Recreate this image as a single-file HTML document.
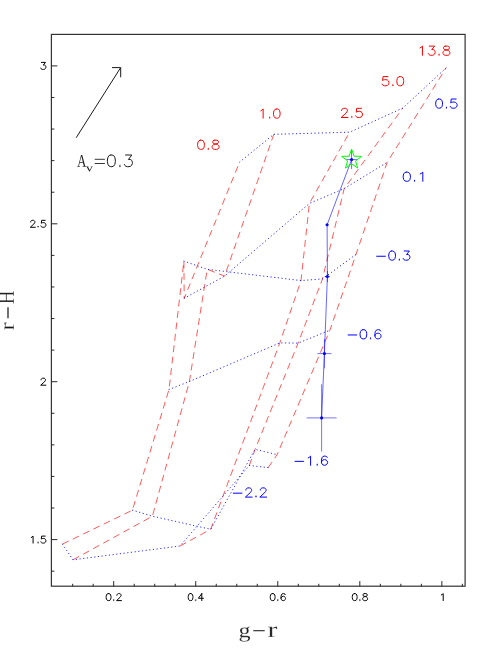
<!DOCTYPE html>
<html><head><meta charset="utf-8"><title>plot</title>
<style>html,body{margin:0;padding:0;background:#fff;}body{width:491px;height:653px;position:relative;overflow:hidden;font-family:"Liberation Sans",sans-serif;}</style>
</head><body>
<svg width="491" height="653" viewBox="0 0 491 653" style="position:absolute;left:0;top:0">
<rect x="0" y="0" width="491" height="653" fill="#fff"/>
<rect x="51.4" y="34.4" width="413.70000000000005" height="551.8000000000001" fill="none" stroke="#333" stroke-width="1.2"/>
<path d="M72.68 586.2v-2.4 M93.19 586.2v-2.4 M113.70 586.2v-5.1 M134.21 586.2v-2.4 M154.72 586.2v-2.4 M175.23 586.2v-2.4 M195.74 586.2v-5.1 M216.25 586.2v-2.4 M236.76 586.2v-2.4 M257.27 586.2v-2.4 M277.78 586.2v-5.1 M298.29 586.2v-2.4 M318.80 586.2v-2.4 M339.31 586.2v-2.4 M359.82 586.2v-5.1 M380.33 586.2v-2.4 M400.84 586.2v-2.4 M421.35 586.2v-2.4 M441.86 586.2v-5.1 M462.37 586.2v-2.4 M51.4 571.18h3.0 M51.4 539.60h6.0 M51.4 508.02h3.0 M51.4 476.44h3.0 M51.4 444.86h3.0 M51.4 413.28h3.0 M51.4 381.70h6.0 M51.4 350.12h3.0 M51.4 318.54h3.0 M51.4 286.96h3.0 M51.4 255.38h3.0 M51.4 223.80h6.0 M51.4 192.22h3.0 M51.4 160.64h3.0 M51.4 129.06h3.0 M51.4 97.48h3.0 M51.4 65.90h6.0" stroke="#111" stroke-width="0.9" fill="none"/>
<path d="M108.24 593.60L107.19 593.93L106.50 594.93L106.15 596.60L106.15 597.60L106.50 599.27L107.19 600.27L108.24 600.60L108.93 600.60L109.97 600.27L110.67 599.27L111.02 597.60L111.02 596.60L110.67 594.93L109.97 593.93L108.93 593.60L108.24 593.60M113.80 599.93L113.45 600.27L113.80 600.60L114.15 600.27L113.80 599.93M116.93 595.27L116.93 594.93L117.28 594.27L117.62 593.93L118.32 593.60L119.71 593.60L120.41 593.93L120.75 594.27L121.10 594.93L121.10 595.60L120.75 596.27L120.06 597.27L116.58 600.60L121.45 600.60" fill="none" stroke="#000" stroke-width="1.0" stroke-linecap="round" stroke-linejoin="round"/>
<path d="M190.23 593.60L189.21 593.93L188.53 594.93L188.19 596.60L188.19 597.60L188.53 599.27L189.21 600.27L190.23 600.60L190.91 600.60L191.93 600.27L192.61 599.27L192.95 597.60L192.95 596.60L192.61 594.93L191.93 593.93L190.91 593.60L190.23 593.60M195.67 599.93L195.33 600.27L195.67 600.60L196.01 600.27L195.67 599.93M201.79 593.60L198.39 598.27L203.49 598.27M201.79 593.60L201.79 600.60" fill="none" stroke="#000" stroke-width="1.0" stroke-linecap="round" stroke-linejoin="round"/>
<path d="M272.32 593.60L271.27 593.93L270.58 594.93L270.23 596.60L270.23 597.60L270.58 599.27L271.27 600.27L272.32 600.60L273.01 600.60L274.06 600.27L274.75 599.27L275.10 597.60L275.10 596.60L274.75 594.93L274.06 593.93L273.01 593.60L272.32 593.60M277.88 599.93L277.53 600.27L277.88 600.60L278.23 600.27L277.88 599.93M285.18 594.60L284.83 593.93L283.79 593.60L283.10 593.60L282.05 593.93L281.36 594.93L281.01 596.60L281.01 598.27L281.36 599.60L282.05 600.27L283.10 600.60L283.44 600.60L284.49 600.27L285.18 599.60L285.53 598.60L285.53 598.27L285.18 597.27L284.49 596.60L283.44 596.27L283.10 596.27L282.05 596.60L281.36 597.27L281.01 598.27" fill="none" stroke="#000" stroke-width="1.0" stroke-linecap="round" stroke-linejoin="round"/>
<path d="M354.36 593.60L353.31 593.93L352.62 594.93L352.27 596.60L352.27 597.60L352.62 599.27L353.31 600.27L354.36 600.60L355.05 600.60L356.10 600.27L356.79 599.27L357.14 597.60L357.14 596.60L356.79 594.93L356.10 593.93L355.05 593.60L354.36 593.60M359.92 599.93L359.57 600.27L359.92 600.60L360.27 600.27L359.92 599.93M364.44 593.60L363.40 593.93L363.05 594.60L363.05 595.27L363.40 595.93L364.09 596.27L365.48 596.60L366.53 596.93L367.22 597.60L367.57 598.27L367.57 599.27L367.22 599.93L366.87 600.27L365.83 600.60L364.44 600.60L363.40 600.27L363.05 599.93L362.70 599.27L362.70 598.27L363.05 597.60L363.75 596.93L364.79 596.60L366.18 596.27L366.87 595.93L367.22 595.27L367.22 594.60L366.87 593.93L365.83 593.60L364.44 593.60" fill="none" stroke="#000" stroke-width="1.0" stroke-linecap="round" stroke-linejoin="round"/>
<path d="M441.31 594.93L442.07 594.60L443.21 593.60L443.21 600.60" fill="none" stroke="#000" stroke-width="1.0" stroke-linecap="round" stroke-linejoin="round"/>
<path d="M41.44 62.40L45.53 62.40L43.30 65.07L44.41 65.07L45.16 65.40L45.53 65.73L45.90 66.73L45.90 67.40L45.53 68.40L44.79 69.07L43.67 69.40L42.56 69.40L41.44 69.07L41.07 68.73L40.70 68.07" fill="none" stroke="#000" stroke-width="1.0" stroke-linecap="round" stroke-linejoin="round"/>
<path d="M30.65 221.97L30.65 221.63L31.01 220.97L31.36 220.63L32.07 220.30L33.49 220.30L34.20 220.63L34.55 220.97L34.91 221.63L34.91 222.30L34.55 222.97L33.85 223.97L30.30 227.30L35.26 227.30M38.10 226.63L37.75 226.97L38.10 227.30L38.45 226.97L38.10 226.63M45.19 220.30L41.65 220.30L41.29 223.30L41.65 222.97L42.71 222.63L43.77 222.63L44.84 222.97L45.55 223.63L45.90 224.63L45.90 225.30L45.55 226.30L44.84 226.97L43.77 227.30L42.71 227.30L41.65 226.97L41.29 226.63L40.94 225.97" fill="none" stroke="#000" stroke-width="1.0" stroke-linecap="round" stroke-linejoin="round"/>
<path d="M41.07 379.87L41.07 379.53L41.44 378.87L41.81 378.53L42.56 378.20L44.04 378.20L44.79 378.53L45.16 378.87L45.53 379.53L45.53 380.20L45.16 380.87L44.41 381.87L40.70 385.20L45.90 385.20" fill="none" stroke="#000" stroke-width="1.0" stroke-linecap="round" stroke-linejoin="round"/>
<path d="M31.30 537.43L32.01 537.10L33.08 536.10L33.08 543.10M38.07 542.43L37.71 542.77L38.07 543.10L38.42 542.77L38.07 542.43M45.19 536.10L41.63 536.10L41.27 539.10L41.63 538.77L42.70 538.43L43.76 538.43L44.83 538.77L45.54 539.43L45.90 540.43L45.90 541.10L45.54 542.10L44.83 542.77L43.76 543.10L42.70 543.10L41.63 542.77L41.27 542.43L40.91 541.77" fill="none" stroke="#000" stroke-width="1.0" stroke-linecap="round" stroke-linejoin="round"/>
<polyline points="62.4,544.1 132.4,510.2 169.0,389.5 183.9,261.1 184.2,298.3 239.6,162.1" fill="none" stroke="#ff0000" stroke-width="0.65" stroke-dasharray="6.9 4.6"/>
<polyline points="73,559.8 152.4,516.2 189.4,381.5 207.2,269.3 224.6,276.1 273.8,134.3" fill="none" stroke="#ff0000" stroke-width="0.65" stroke-dasharray="6.9 4.6"/>
<polyline points="180,546 210.7,529.3 279.8,342.9 301,280.6 309.4,203.4 349.6,132.2" fill="none" stroke="#ff0000" stroke-width="0.65" stroke-dasharray="6.9 4.6"/>
<polyline points="249.3,465.5 255.1,449.3 298.1,343.1 322.5,278.9 344.2,188.6 402.9,108.0" fill="none" stroke="#ff0000" stroke-width="0.65" stroke-dasharray="6.9 4.6"/>
<polyline points="268.2,467.6 277.1,454.7 329.9,330.2 356,254.4 387.2,162.3 446.1,67.9" fill="none" stroke="#ff0000" stroke-width="0.65" stroke-dasharray="6.9 4.6"/>
<polyline points="62.4,544.1 73,559.8 180,546 249.3,465.5 268.2,467.6" fill="none" stroke="#0000ff" stroke-width="0.95" stroke-opacity="0.88" stroke-linecap="round" stroke-dasharray="0.4 3.3"/>
<polyline points="132.4,510.2 152.4,516.2 210.7,529.3 255.1,449.3 277.1,454.7" fill="none" stroke="#0000ff" stroke-width="0.95" stroke-opacity="0.88" stroke-linecap="round" stroke-dasharray="0.4 3.3"/>
<polyline points="169.0,389.5 189.4,381.5 279.8,342.9 298.1,343.1 329.9,330.2" fill="none" stroke="#0000ff" stroke-width="0.95" stroke-opacity="0.88" stroke-linecap="round" stroke-dasharray="0.4 3.3"/>
<polyline points="183.9,261.1 207.2,269.3 301,280.6 322.5,278.9 356,254.4" fill="none" stroke="#0000ff" stroke-width="0.95" stroke-opacity="0.88" stroke-linecap="round" stroke-dasharray="0.4 3.3"/>
<polyline points="184.2,298.3 224.6,276.1 309.4,203.4 344.2,188.6 387.2,162.3" fill="none" stroke="#0000ff" stroke-width="0.95" stroke-opacity="0.88" stroke-linecap="round" stroke-dasharray="0.4 3.3"/>
<polyline points="239.6,162.1 273.8,134.3 349.6,132.2 402.9,108.0 446.1,67.9" fill="none" stroke="#0000ff" stroke-width="0.95" stroke-opacity="0.88" stroke-linecap="round" stroke-dasharray="0.4 3.3"/>
<polyline points="351.6,159.6 327.1,224.8 327.4,276.5 324.4,353.6 321.6,417.9" fill="none" stroke="#0000ff" stroke-width="0.6"/>
<circle cx="351.6" cy="159.6" r="1.55" fill="#0000ff"/>
<circle cx="327.1" cy="224.8" r="1.55" fill="#0000ff"/>
<circle cx="327.4" cy="276.5" r="1.55" fill="#0000ff"/>
<circle cx="324.4" cy="353.6" r="1.55" fill="#0000ff"/>
<circle cx="321.6" cy="417.9" r="1.55" fill="#0000ff"/>
<path d="M306.6 417.9h30M321.6 384.29999999999995v67.2 M317.29999999999995 353.6h14.2M324.4 338.90000000000003v29.4 M324.79999999999995 276.5h5.2M327.4 271.0v11" stroke="#0000ff" stroke-width="0.55" fill="none"/>
<path d="M346.3 159.6h10.6M351.6 150.0v19" stroke="#0000ff" stroke-width="0.6" fill="none"/>
<polygon points="351.60,149.10 354.07,156.20 361.59,156.36 355.59,160.90 357.77,168.09 351.60,163.80 345.43,168.09 347.61,160.90 341.61,156.36 349.13,156.20" fill="none" stroke="#00ff00" stroke-width="1.0" stroke-linejoin="miter" stroke-miterlimit="10"/>
<path d="M76.2 137.7L120.6 67.7M112 67.6h8.7v9.7" fill="none" stroke="#1a1a1a" stroke-width="1.0"/>
<path d="M420.00 47.85L420.98 47.41L422.44 46.10L422.44 55.30M429.28 46.10L434.66 46.10L431.72 49.60L433.19 49.60L434.17 50.04L434.66 50.48L435.14 51.80L435.14 52.67L434.66 53.99L433.68 54.86L432.21 55.30L430.75 55.30L429.28 54.86L428.79 54.42L428.30 53.55M439.05 54.42L438.56 54.86L439.05 55.30L439.54 54.86L439.05 54.42M445.40 46.10L443.94 46.54L443.45 47.41L443.45 48.29L443.94 49.17L444.91 49.60L446.87 50.04L448.33 50.48L449.31 51.36L449.80 52.23L449.80 53.55L449.31 54.42L448.82 54.86L447.36 55.30L445.40 55.30L443.94 54.86L443.45 54.42L442.96 53.55L442.96 52.23L443.45 51.36L444.43 50.48L445.89 50.04L447.85 49.60L448.82 49.17L449.31 48.29L449.31 47.41L448.82 46.54L447.36 46.10L445.40 46.10" fill="none" stroke="#ff0000" stroke-width="1.0" stroke-linecap="round" stroke-linejoin="round"/>
<path d="M387.99 76.60L383.08 76.60L382.59 80.54L383.08 80.10L384.55 79.67L386.03 79.67L387.50 80.10L388.48 80.98L388.97 82.30L388.97 83.17L388.48 84.49L387.50 85.36L386.03 85.80L384.55 85.80L383.08 85.36L382.59 84.92L382.10 84.05M392.90 84.92L392.41 85.36L392.90 85.80L393.39 85.36L392.90 84.92M399.77 76.60L398.30 77.04L397.32 78.35L396.83 80.54L396.83 81.86L397.32 84.05L398.30 85.36L399.77 85.80L400.75 85.80L402.23 85.36L403.21 84.05L403.70 81.86L403.70 80.54L403.21 78.35L402.23 77.04L400.75 76.60L399.77 76.60" fill="none" stroke="#ff0000" stroke-width="1.0" stroke-linecap="round" stroke-linejoin="round"/>
<path d="M341.59 110.49L341.59 110.05L342.07 109.18L342.56 108.74L343.53 108.30L345.48 108.30L346.45 108.74L346.94 109.18L347.42 110.05L347.42 110.93L346.94 111.80L345.96 113.12L341.10 117.50L347.91 117.50M351.80 116.62L351.31 117.06L351.80 117.50L352.29 117.06L351.80 116.62M361.53 108.30L356.66 108.30L356.18 112.24L356.66 111.80L358.12 111.37L359.58 111.37L361.04 111.80L362.01 112.68L362.50 114.00L362.50 114.87L362.01 116.19L361.04 117.06L359.58 117.50L358.12 117.50L356.66 117.06L356.18 116.62L355.69 115.75" fill="none" stroke="#ff0000" stroke-width="1.0" stroke-linecap="round" stroke-linejoin="round"/>
<path d="M260.80 110.75L261.74 110.31L263.15 109.00L263.15 118.20M269.74 117.32L269.27 117.76L269.74 118.20L270.21 117.76L269.74 117.32M276.33 109.00L274.92 109.44L273.98 110.75L273.51 112.94L273.51 114.26L273.98 116.45L274.92 117.76L276.33 118.20L277.28 118.20L278.69 117.76L279.63 116.45L280.10 114.26L280.10 112.94L279.63 110.75L278.69 109.44L277.28 109.00L276.33 109.00" fill="none" stroke="#ff0000" stroke-width="1.0" stroke-linecap="round" stroke-linejoin="round"/>
<path d="M200.52 140.20L199.06 140.64L198.09 141.95L197.60 144.14L197.60 145.46L198.09 147.65L199.06 148.96L200.52 149.40L201.49 149.40L202.95 148.96L203.92 147.65L204.41 145.46L204.41 144.14L203.92 141.95L202.95 140.64L201.49 140.20L200.52 140.20M208.30 148.52L207.81 148.96L208.30 149.40L208.79 148.96L208.30 148.52M214.62 140.20L213.16 140.64L212.68 141.51L212.68 142.39L213.16 143.27L214.14 143.70L216.08 144.14L217.54 144.58L218.51 145.46L219.00 146.33L219.00 147.65L218.51 148.52L218.03 148.96L216.57 149.40L214.62 149.40L213.16 148.96L212.68 148.52L212.19 147.65L212.19 146.33L212.68 145.46L213.65 144.58L215.11 144.14L217.05 143.70L218.03 143.27L218.51 142.39L218.51 141.51L218.03 140.64L216.57 140.20L214.62 140.20" fill="none" stroke="#ff0000" stroke-width="1.0" stroke-linecap="round" stroke-linejoin="round"/>
<path d="M438.62 99.00L437.16 99.44L436.19 100.75L435.70 102.94L435.70 104.26L436.19 106.45L437.16 107.76L438.62 108.20L439.59 108.20L441.05 107.76L442.02 106.45L442.51 104.26L442.51 102.94L442.02 100.75L441.05 99.44L439.59 99.00L438.62 99.00M446.40 107.32L445.91 107.76L446.40 108.20L446.89 107.76L446.40 107.32M456.13 99.00L451.26 99.00L450.78 102.94L451.26 102.50L452.72 102.07L454.18 102.07L455.64 102.50L456.61 103.38L457.10 104.70L457.10 105.57L456.61 106.89L455.64 107.76L454.18 108.20L452.72 108.20L451.26 107.76L450.78 107.32L450.29 106.45" fill="none" stroke="#0000ff" stroke-width="1.0" stroke-linecap="round" stroke-linejoin="round"/>
<path d="M406.29 172.10L404.75 172.54L403.72 173.85L403.20 176.04L403.20 177.36L403.72 179.55L404.75 180.86L406.29 181.30L407.33 181.30L408.87 180.86L409.91 179.55L410.42 177.36L410.42 176.04L409.91 173.85L408.87 172.54L407.33 172.10L406.29 172.10M414.55 180.42L414.03 180.86L414.55 181.30L415.06 180.86L414.55 180.42M420.22 173.85L421.25 173.41L422.80 172.10L422.80 181.30" fill="none" stroke="#0000ff" stroke-width="1.0" stroke-linecap="round" stroke-linejoin="round"/>
<path d="M376.70 256.26L385.36 256.26M391.62 251.00L390.17 251.44L389.21 252.75L388.73 254.94L388.73 256.26L389.21 258.45L390.17 259.76L391.62 260.20L392.58 260.20L394.02 259.76L394.98 258.45L395.47 256.26L395.47 254.94L394.98 252.75L394.02 251.44L392.58 251.00L391.62 251.00M399.31 259.32L398.83 259.76L399.31 260.20L399.80 259.76L399.31 259.32M404.13 251.00L409.42 251.00L406.53 254.50L407.98 254.50L408.94 254.94L409.42 255.38L409.90 256.70L409.90 257.57L409.42 258.89L408.46 259.76L407.01 260.20L405.57 260.20L404.13 259.76L403.64 259.32L403.16 258.45" fill="none" stroke="#0000ff" stroke-width="1.0" stroke-linecap="round" stroke-linejoin="round"/>
<path d="M348.10 334.96L356.71 334.96M362.93 329.70L361.49 330.14L360.53 331.45L360.06 333.64L360.06 334.96L360.53 337.15L361.49 338.46L362.93 338.90L363.88 338.90L365.32 338.46L366.27 337.15L366.75 334.96L366.75 333.64L366.27 331.45L365.32 330.14L363.88 329.70L362.93 329.70M370.58 338.02L370.10 338.46L370.58 338.90L371.06 338.46L370.58 338.02M380.62 331.01L380.14 330.14L378.71 329.70L377.75 329.70L376.32 330.14L375.36 331.45L374.88 333.64L374.88 335.83L375.36 337.59L376.32 338.46L377.75 338.90L378.23 338.90L379.67 338.46L380.62 337.59L381.10 336.27L381.10 335.83L380.62 334.52L379.67 333.64L378.23 333.20L377.75 333.20L376.32 333.64L375.36 334.52L374.88 335.83" fill="none" stroke="#0000ff" stroke-width="1.0" stroke-linecap="round" stroke-linejoin="round"/>
<path d="M295.00 461.36L303.50 461.36M308.23 457.85L309.17 457.41L310.59 456.10L310.59 465.30M317.21 464.42L316.73 464.86L317.21 465.30L317.68 464.86L317.21 464.42M327.13 457.41L326.66 456.54L325.24 456.10L324.29 456.10L322.88 456.54L321.93 457.85L321.46 460.04L321.46 462.23L321.93 463.99L322.88 464.86L324.29 465.30L324.77 465.30L326.18 464.86L327.13 463.99L327.60 462.67L327.60 462.23L327.13 460.92L326.18 460.04L324.77 459.60L324.29 459.60L322.88 460.04L321.93 460.92L321.46 462.23" fill="none" stroke="#0000ff" stroke-width="1.0" stroke-linecap="round" stroke-linejoin="round"/>
<path d="M233.30 493.16L241.99 493.16M245.85 490.09L245.85 489.65L246.33 488.78L246.81 488.34L247.78 487.90L249.71 487.90L250.67 488.34L251.16 488.78L251.64 489.65L251.64 490.53L251.16 491.40L250.19 492.72L245.37 497.10L252.12 497.10M255.98 496.22L255.50 496.66L255.98 497.10L256.47 496.66L255.98 496.22M260.33 490.09L260.33 489.65L260.81 488.78L261.29 488.34L262.26 487.90L264.19 487.90L265.15 488.34L265.63 488.78L266.12 489.65L266.12 490.53L265.63 491.40L264.67 492.72L259.84 497.10L266.60 497.10" fill="none" stroke="#0000ff" stroke-width="1.0" stroke-linecap="round" stroke-linejoin="round"/>
<path transform="matrix(0.006163 0 0 -0.008654 77.177 166.700)" d="M461 53V0H20V53L172 80L629 1352H819L1294 80L1464 53V0H897V53L1077 80L944 467H416L281 80ZM676 1208 446 557H913Z" fill="#111" stroke="#fff" stroke-width="10.8"/>
<path transform="matrix(0.006738 0 0 -0.005312 86.000 171.394)" d="M557 -20H483L96 870L0 895V940H438V895L289 868L563 219L825 870L676 895V940H1024V895L934 874Z" fill="#111" stroke="#fff" stroke-width="8.3"/>
<path d="M94.7 159.3h10.2M94.7 163.5h10.2" stroke="#222" stroke-width="0.9" fill="none"/>
<path d="M110.81 155.00L109.10 155.56L107.97 157.23L107.40 160.01L107.40 161.69L107.97 164.47L109.10 166.14L110.81 166.70L111.95 166.70L113.65 166.14L114.79 164.47L115.35 161.69L115.35 160.01L114.79 157.23L113.65 155.56L111.95 155.00L110.81 155.00M119.90 165.59L119.33 166.14L119.90 166.70L120.47 166.14L119.90 165.59M125.58 155.00L131.83 155.00L128.42 159.46L130.13 159.46L131.26 160.01L131.83 160.57L132.40 162.24L132.40 163.36L131.83 165.03L130.70 166.14L128.99 166.70L127.29 166.70L125.58 166.14L125.01 165.59L124.45 164.47" fill="none" stroke="#1a1a1a" stroke-width="1.0" stroke-linecap="round" stroke-linejoin="round"/>
<path transform="matrix(0.011706 0 0 -0.010181 238.570 637.200)" d="M870 643Q870 481 773.0 398.0Q676 315 494 315Q412 315 342 330L279 199Q282 182 318.0 167.0Q354 152 408 152H686Q838 152 911.5 86.0Q985 20 985 -96Q985 -201 926.5 -279.0Q868 -357 755.0 -399.5Q642 -442 481 -442Q289 -442 188.5 -383.0Q88 -324 88 -215Q88 -162 124.0 -110.5Q160 -59 256 10Q199 29 160.0 75.0Q121 121 121 174L279 352Q121 426 121 643Q121 797 218.5 881.0Q316 965 502 965Q539 965 597.0 957.5Q655 950 686 940L907 1051L942 1008L803 864Q870 789 870 643ZM829 -127Q829 -70 794.0 -38.0Q759 -6 688 -6H324Q282 -42 255.5 -97.5Q229 -153 229 -201Q229 -287 291.0 -324.5Q353 -362 481 -362Q648 -362 738.5 -300.0Q829 -238 829 -127ZM496 391Q605 391 650.5 453.5Q696 516 696 643Q696 776 649.0 832.5Q602 889 498 889Q393 889 344.0 832.0Q295 775 295 643Q295 511 343.0 451.0Q391 391 496 391Z" fill="#111" stroke="#fff" stroke-width="32.0"/>
<path d="M253.3 630.7h11.4" stroke="#222" stroke-width="1.1"/>
<path transform="matrix(0.014446 0 0 -0.010777 267.508 636.900)" d="M664 965V711H621L563 821Q513 821 444.5 807.5Q376 794 326 772V70L487 45V0H41V45L160 70V870L41 895V940H315L324 823Q384 873 486.5 919.0Q589 965 649 965Z" fill="#111" stroke="#fff" stroke-width="27.8"/>
<g transform="translate(0,330) rotate(-90)">
<path transform="matrix(0.011717 0 0 -0.010052 -0.280 13.900)" d="M664 965V711H621L563 821Q513 821 444.5 807.5Q376 794 326 772V70L487 45V0H41V45L160 70V870L41 895V940H315L324 823Q384 873 486.5 919.0Q589 965 649 965Z" fill="#111" stroke="#fff" stroke-width="32.2"/>
<path d="M11.7 8.0H22.8" stroke="#111" stroke-width="1.2"/>
<path transform="matrix(0.009265 0 0 -0.010887 25.753 13.900)" d="M59 0V53L231 80V1262L59 1288V1341H596V1288L424 1262V735H1055V1262L883 1288V1341H1419V1288L1247 1262V80L1419 53V0H883V53L1055 80V645H424V80L596 53V0Z" fill="#111" stroke="#fff" stroke-width="34.7"/>
</g>
</svg>
</body></html>
